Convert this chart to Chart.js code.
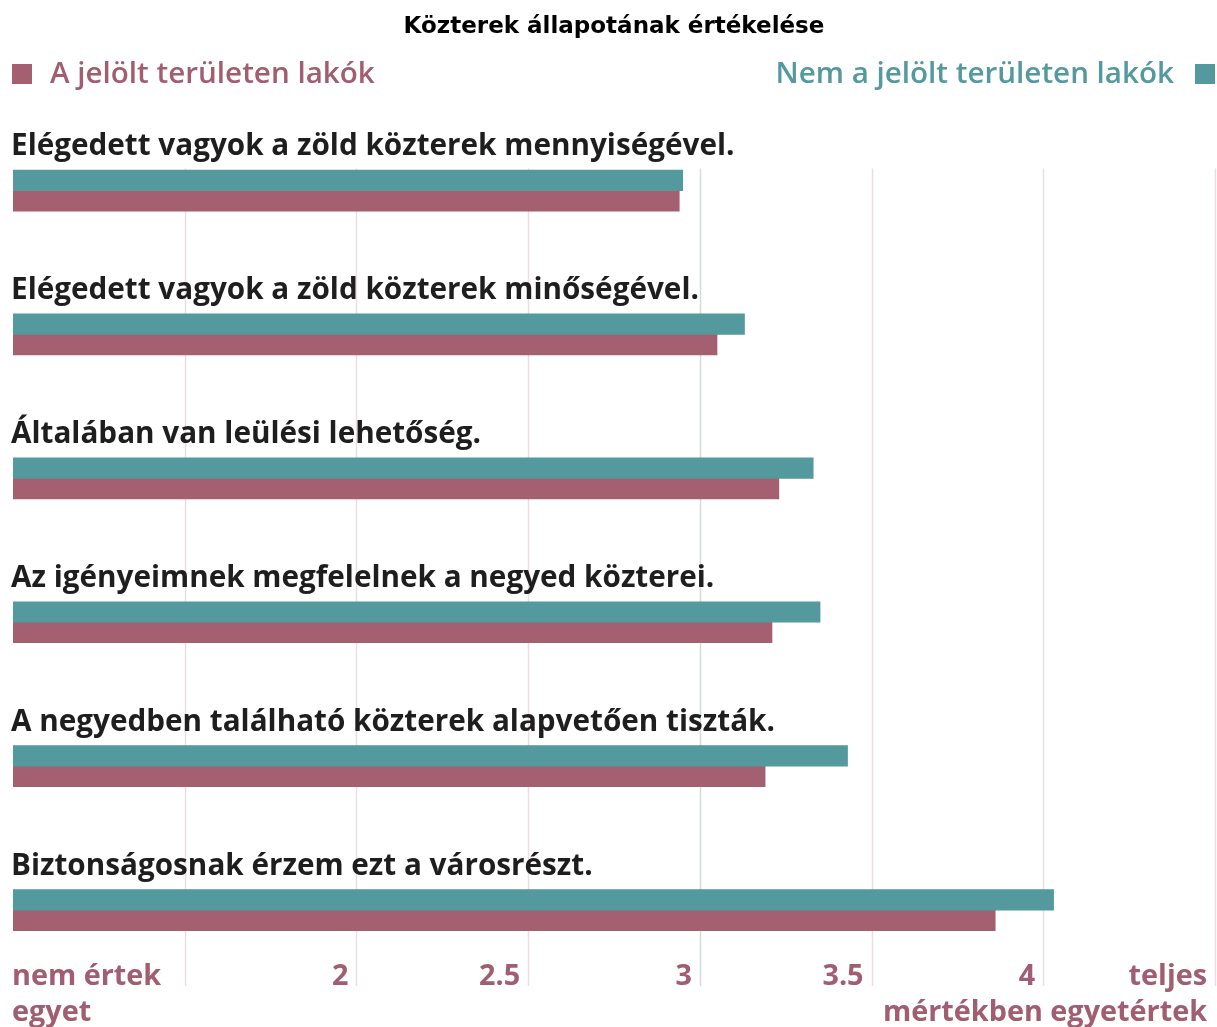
<!DOCTYPE html>
<html>
<head>
<meta charset="utf-8">
<script src="https://cdn.jsdelivr.net/npm/chart.js@4.4.0/dist/chart.umd.min.js"></script>
<style>
  html, body { margin: 0; padding: 0; background: #fff; }
  #wrap { width: 1217px; height: 1027px; position: relative; }
</style>
</head>
<body>
<div id="wrap"><canvas id="chart01"></canvas></div>
<script>
// kérdések
var categories = [
  'Elégedett vagyok a zöld közterek mennyiségével.',
  'Elégedett vagyok a zöld közterek minőségével.',
  'Általában van leülési lehetőség.',
  'Az igényeimnek megfelelnek a negyed közterei.',
  'A negyedben található közterek alapvetően tiszták.',
  'Biztonságosnak érzem ezt a városrészt.'
];
var jeloltValues = [2.94, 3.05, 3.23, 3.21, 3.19, 3.86];
var nemJeloltValues = [2.95, 3.13, 3.33, 3.35, 3.43, 4.03];
var tickValues = [1, 1.5, 2, 2.5, 3, 3.5, 4, 4.5];
var tickLabels = [['nem értek', 'egyet'], '', '2', '2.5', '3', '3.5', '4', ['teljes', 'mértékben egyetértek']];

var PINK = '#a45f70';
var TEAL = '#53999d';
var TEXT_PINK = '#a15d71';
var LABEL_FONT = '"Open Sans", "DejaVu Sans", sans-serif';

var decorPlugin = {
  id: 'decor',
  beforeDatasetsDraw: function(chart) {
    var ctx = chart.ctx, x = chart.scales.x, area = chart.chartArea;
    ctx.save();
    ctx.lineWidth = 1.5;
    tickValues.forEach(function(v, i) {
      if (i === 0) return;
      var px = Math.round(x.getPixelForValue(v)) + 0.5;
      ctx.strokeStyle = (v === 3) ? '#d5dcdc' : '#ecdde1';
      ctx.beginPath();
      ctx.moveTo(px, area.top + 50);
      ctx.lineTo(px, area.bottom + 4);
      ctx.stroke();
    });
    ctx.restore();
  },
  afterDraw: function(chart) {
    var ctx = chart.ctx, x = chart.scales.x, y = chart.scales.y;
    ctx.save();
    // kérdések a sávok fölött
    ctx.fillStyle = '#1e1e1e';
    ctx.font = 'bold 29.7px ' + LABEL_FONT;
    ctx.textAlign = 'left';
    ctx.textBaseline = 'middle';
    categories.forEach(function(c, i) {
      var cy = y.getPixelForValue(i);
      ctx.fillText(c, 11, cy - 44);
    });
    // jelmagyarázat
    ctx.font = '600 29.6px ' + LABEL_FONT;
    ctx.fillStyle = PINK;
    ctx.fillRect(12, 64, 20, 20);
    ctx.fillStyle = TEXT_PINK;
    ctx.fillText('A jelölt területen lakók', 50, 75);
    ctx.fillStyle = TEAL;
    ctx.fillRect(1195, 64, 20, 20);
    ctx.textAlign = 'right';
    ctx.fillText('Nem a jelölt területen lakók', 1174, 75);
    // tengelyfeliratok
    ctx.fillStyle = TEXT_PINK;
    ctx.font = 'bold 28.8px ' + LABEL_FONT;
    tickLabels.forEach(function(lab, i) {
      if (!lab) return;
      var px = x.getPixelForValue(tickValues[i]);
      if (Array.isArray(lab)) {
        ctx.textAlign = i === 0 ? 'left' : 'right';
        var lx = i === 0 ? 12 : 1207;
        ctx.fillText(lab[0], lx, 977);
        ctx.fillText(lab[1], lx, 1013);
      } else {
        ctx.textAlign = 'right';
        ctx.fillText(lab, px - 8, 977);
      }
    });
    ctx.restore();
  }
};

var ctx = document.getElementById('chart01');
var myBarChart = new Chart(ctx, {
  type: 'bar',
  data: {
    labels: categories,
    datasets: [{
      label: 'Nem a jelölt területen lakók',
      data: nemJeloltValues,
      backgroundColor: TEAL,
      barThickness: 20.5
    }, {
      label: 'A jelölt területen lakók',
      data: jeloltValues,
      backgroundColor: PINK,
      barThickness: 20.5
    }]
  },
  options: {
    indexAxis: 'y',
    responsive: true,
    maintainAspectRatio: false,
    animation: false,
    layout: { padding: { left: 13, right: 2, top: 0, bottom: 45 } },
    plugins: {
      legend: { display: false },
      tooltip: { enabled: false },
      title: {
        display: true,
        text: 'Közterek állapotának értékelése',
        color: '#000',
        font: { family: '"DejaVu Sans", sans-serif', size: 23, weight: 'bold', lineHeight: 1.2 },
        padding: { top: 13, bottom: 78 }
      }
    },
    scales: {
      x: { display: false, min: 1, max: 4.5 },
      y: { display: false }
    }
  },
  plugins: [decorPlugin]
});
</script>
</body>
</html>
